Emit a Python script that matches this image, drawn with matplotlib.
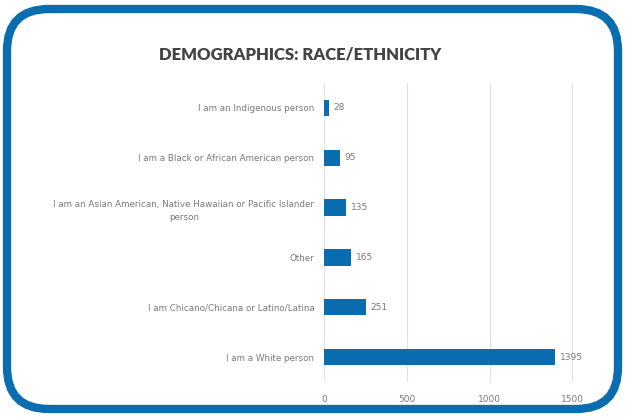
import matplotlib.pyplot as plt
from matplotlib.patches import FancyBboxPatch
from matplotlib.transforms import IdentityTransform

# data, top to bottom as in the chart
categories = [
    "I am an Indigenous person",
    "I am a Black or African American person",
    "I am an Asian American, Native Hawaiian or Pacific Islander\nperson",
    "Other",
    "I am Chicano/Chicana or Latino/Latina",
    "I am a White person",
]
counts = [28, 95, 135, 165, 251, 1395]
xticks = [0, 500, 1000, 1500]

blue = "#0a6db0"
grey_txt = "#7a7a7a"

fig = plt.figure(figsize=(6.25, 4.18), dpi=100)

# rounded blue frame, drawn in pixels
frame = FancyBboxPatch((7, 9), 611, 400, boxstyle="round,pad=0,rounding_size=42",
                       transform=IdentityTransform(), fill=False,
                       edgecolor=blue, linewidth=6, zorder=0)
fig.patches.append(frame)

ax = fig.add_axes([324 / 625, 1 - 382 / 418, 265 / 625, 299 / 418])
ypos = list(range(len(categories)))
ax.barh(ypos, counts, height=0.33, color=blue, zorder=3)
ax.set_ylim(len(categories) - 0.5, -0.5)
ax.set_xlim(0, 1600)
ax.set_xticks(xticks)
ax.set_xticklabels([str(t) for t in xticks])
ax.set_yticks(ypos)
ax.set_yticklabels(categories, fontsize=6.3, color=grey_txt, linespacing=1.6)
for lbl in ax.get_yticklabels():
    lbl.set_multialignment("center")
ax.tick_params(axis="y", length=0, pad=7)
ax.tick_params(axis="x", length=0, labelsize=6.5, labelcolor=grey_txt, pad=9)
ax.grid(axis="x", color="#e2e2e2", linewidth=0.8, zorder=0)
for s in ax.spines.values():
    s.set_visible(False)

for y, v in zip(ypos, counts):
    ax.text(v + 30, y, str(v), va="center", ha="left", fontsize=6.5, color=grey_txt)

fig.text(300 / 625, 1 - 55 / 418, "DEMOGRAPHICS: RACE/ETHNICITY", ha="center", va="center",
         fontsize=12, fontweight="heavy", color="#444444", family="Lato")

fig.savefig("out.png", dpi=100)
